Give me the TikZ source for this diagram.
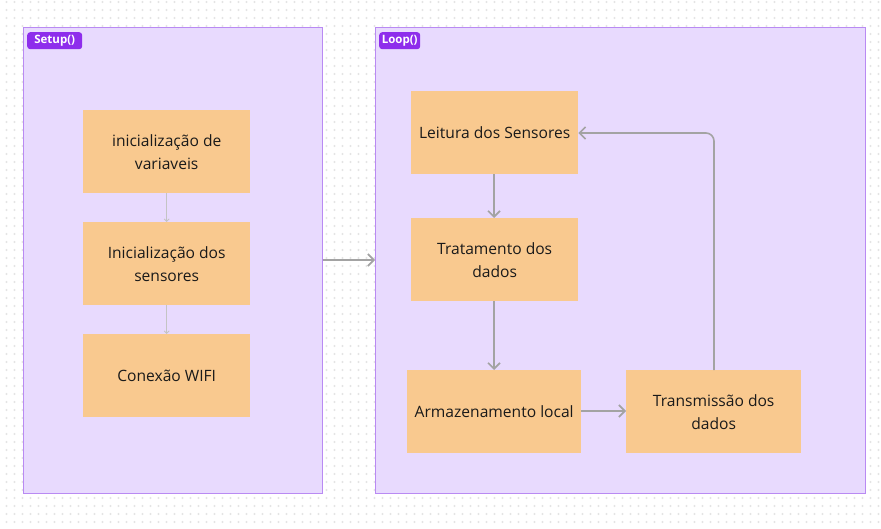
\documentclass[tikz,border=0pt]{standalone}
\usepackage{fontspec}
\setmainfont{Open Sans}
\usetikzlibrary{arrows.meta}
\definecolor{frameFill}{HTML}{E8DAFE}
\definecolor{frameLine}{HTML}{B98AF3}
\definecolor{tagFill}{HTML}{8E2DEC}
\definecolor{boxFill}{HTML}{F9C98F}
\definecolor{txt}{HTML}{1A1A1A}
\definecolor{arr}{HTML}{A3A3A3}
\definecolor{arrLight}{HTML}{C4C4C4}
\definecolor{dotc}{HTML}{E4E4E4}
\tikzset{
  frame/.style={draw=frameLine, line width=0.9pt, fill=frameFill},
  tag/.style={fill=tagFill, rounded corners=3pt, text=white, font=\fontsize{11.5}{12}\selectfont\bfseries, inner sep=0pt, anchor=north west},
  stepbox/.style={fill=boxFill, text=txt, align=center, font=\fontsize{15.6}{23}\selectfont, inner sep=0pt, anchor=north west},
  conn/.style={draw=arr, line width=1.6pt, -{Straight Barb[length=6pt,width=12pt,line width=1.6pt]}},
  thin/.style={draw=arrLight, line width=0.9pt, -{Straight Barb[length=2.5pt,width=5pt,line width=0.9pt]}}
}
\begin{document}
\begin{tikzpicture}[x=1pt,y=-1pt]
\useasboundingbox (0,0) rectangle (881,529);
\fill[white] (0,0) rectangle (881,529);
\foreach \i in {0,...,109}{
  \foreach \j in {0,...,65}{
    \fill[dotc] (6.5+8*\i,2+8*\j) circle (1.1);
  }
}
% frames
\node[frame, minimum width=299, minimum height=466, anchor=north west, inner sep=0pt] (setup) at (23,27) {};
\node[frame, minimum width=490, minimum height=466, anchor=north west, inner sep=0pt] (loop) at (375,27) {};
\node[tag, minimum width=55, minimum height=17] (setuptag) at (27,32) {Setup()};
\node[tag, minimum width=41, minimum height=17] (looptag) at (379,32) {Loop()};
% setup boxes
\node[stepbox, minimum width=167, minimum height=83] (b1) at (83,110) {inicialização de\\variaveis};
\node[stepbox, minimum width=167, minimum height=83] (b2) at (83,222) {Inicialização dos\\sensores};
\node[stepbox, minimum width=167, minimum height=83] (b3) at (83,334) {Conexão WIFI};
% loop boxes
\node[stepbox, minimum width=167, minimum height=83] (l1) at (411,91) {Leitura dos Sensores};
\node[stepbox, minimum width=167, minimum height=83] (l2) at (411,218) {Tratamento dos\\dados};
\node[stepbox, minimum width=174, minimum height=83] (l3) at (407,370) {Armazenamento local};
\node[stepbox, minimum width=175, minimum height=83] (l4) at (626,370) {Transmissão dos\\dados};
% connectors
\draw[thin] (b1.south) -- (b2.north);
\draw[thin] (b2.south) -- (b3.north);
\draw[conn] (setup.east |- 0,260) -- (loop.west |- 0,260);
\draw[conn] (l1.south -| 494,0) -- (l2.north -| 494,0);
\draw[conn] (l2.south -| 494,0) -- (l3.north -| 494,0);
\draw[conn] (l3.east |- 0,411) -- (l4.west |- 0,411);
\draw[conn, rounded corners=8pt] (l4.north -| 714,0) -- (714,133) -- (l1.east |- 0,133);
\end{tikzpicture}
\end{document}
